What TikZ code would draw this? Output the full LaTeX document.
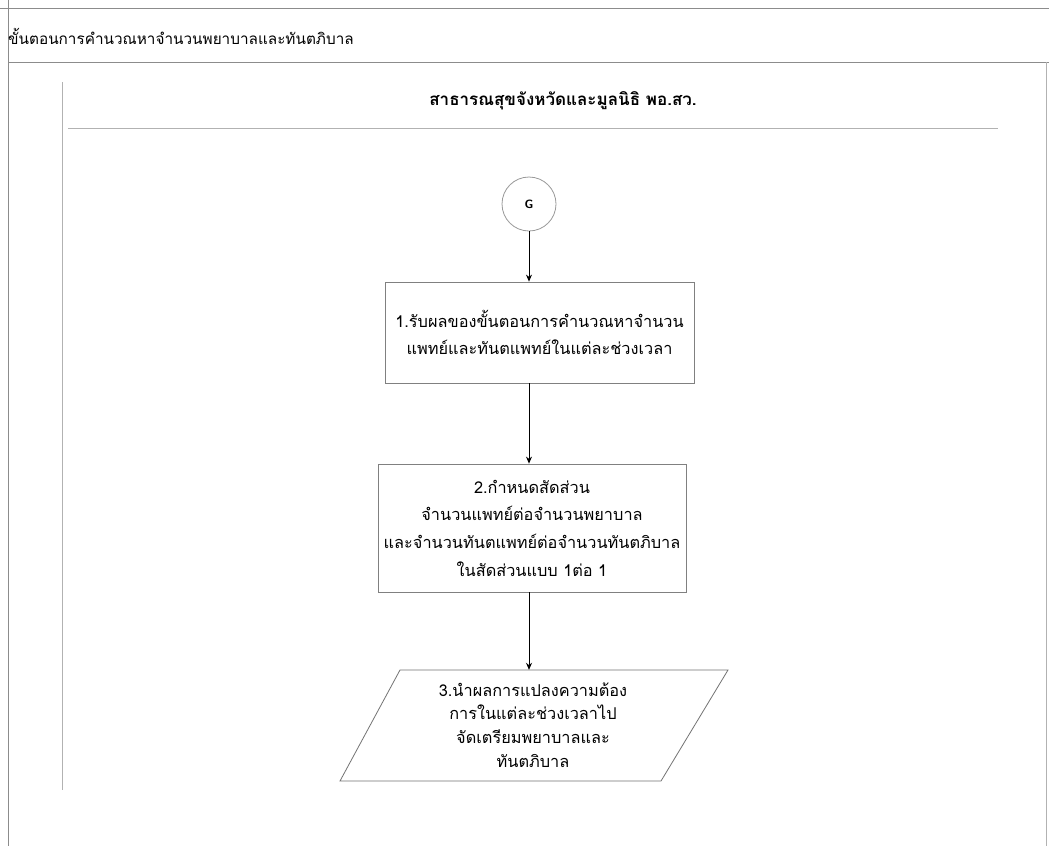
\documentclass[tikz,border=0pt]{standalone}
\usepackage{fontspec}
\newfontfamily\thaifont[Script=Thai]{Loma}
\usetikzlibrary{arrows.meta}
\begin{document}
\begin{tikzpicture}[x=1pt,y=-1pt,
  frameline/.style={draw=black!45,line width=0.9pt},
  poolline/.style={draw=black!30,line width=0.8pt},
  stepbox/.style={draw=black!50,line width=0.8pt,rectangle,align=center,
    font=\thaifont\fontsize{16.3}{27.7}\selectfont,inner sep=0pt},
  iotext/.style={align=center,inner sep=0pt,
    font=\thaifont\fontsize{16.3}{23.7}\selectfont},
  ioshape/.style={draw=black!55,line width=0.8pt},
  flow/.style={-{Stealth[length=7pt,width=6pt]},line width=0.8pt,draw=black}]
\useasboundingbox (0,0) rectangle (1049,846);
\fill[white] (0,0) rectangle (1049,846);

% outer frame and title
\draw[frameline] (0,8) -- (1049,8);
\draw[frameline] (8,0) -- (8,846);
\draw[frameline] (8,62) -- (1049,62);
\draw[poolline] (1046,62) -- (1046,846);
\node[anchor=west,inner sep=0pt,font=\thaifont\fontsize{15.3}{18}\selectfont] (title) at (8,36)
  {ขั้นตอนการคำนวณหาจำนวนพยาบาลและทันตภิบาล};

% lane
\draw[poolline] (62,82) -- (62,790);
\draw[poolline] (68,128) -- (998,128);
\node[inner sep=0pt,font=\thaifont\bfseries\fontsize{17}{20}\selectfont] (lane) at (563,101)
  {สาธารณสุขจังหวัดและมูลนิธิ พอ.สว.};

% connector G
\node[circle,draw=black!40,line width=0.8pt,minimum size=54pt,inner sep=0pt,
  font=\sffamily\bfseries\fontsize{12}{14}\selectfont] (g) at (529,204) {G};

% steps
\node[stepbox,minimum width=309pt,minimum height=101pt] (s1) at (539.5,332.5)
  {1.รับผลของขั้นตอนการคำนวณหาจำนวน\\แพทย์และทันตแพทย์ในแต่ละช่วงเวลา};
\node[stepbox,minimum width=308pt,minimum height=128pt] (s2) at (532,528)
  {2.กำหนดสัดส่วน\\จำนวนแพทย์ต่อจำนวนพยาบาล\\และจำนวนทันตแพทย์ต่อจำนวนทันตภิบาล\\ในสัดส่วนแบบ 1ต่อ 1};
\node[iotext,minimum height=110pt] (s3) at (533,725)
  {3.นำผลการแปลงความต้อง\\การในแต่ละช่วงเวลาไป\\จัดเตรียมพยาบาลและ\\ทันตภิบาล};
% data parallelogram around step 3
\draw[ioshape] (400,670) -- (728,670) -- (661,781) -- (340,781) -- cycle;

% flow
\draw[flow] (g.south) -- (g.south |- s1.north);
\draw[flow] (g.south |- s1.south) -- (g.south |- s2.north);
\draw[flow] (g.south |- s2.south) -- (g.south |- s3.north);
\end{tikzpicture}
\end{document}
